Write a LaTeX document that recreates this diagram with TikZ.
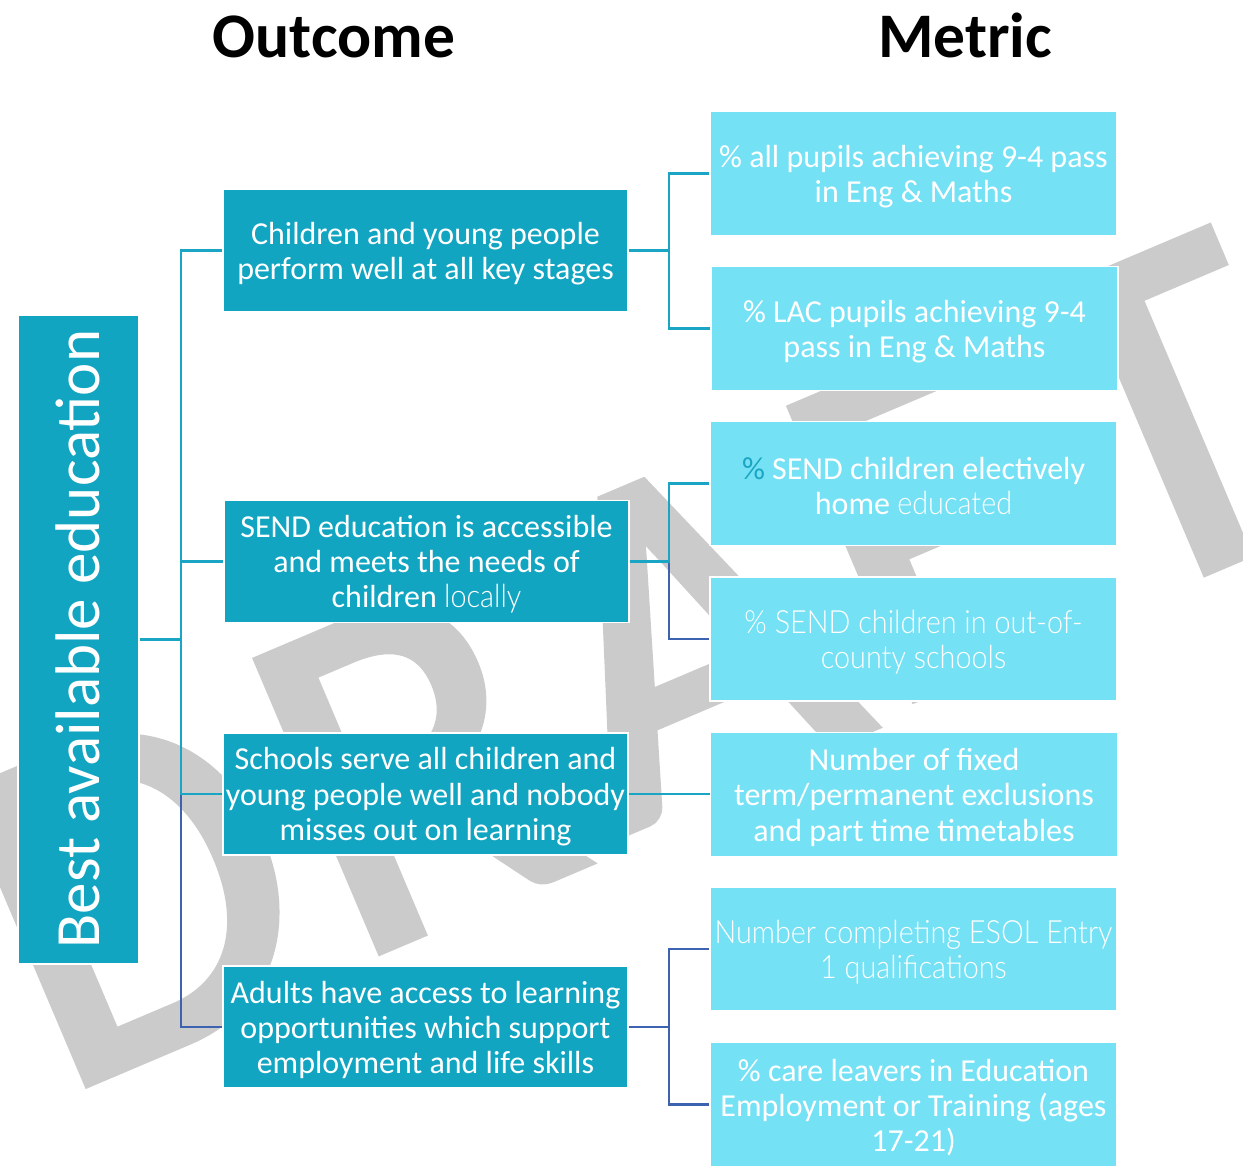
\documentclass[tikz,border=0pt]{standalone}
\usepackage{fontspec}
\setmainfont{Carlito}
\newfontfamily\lightfont[FakeStretch=0.9]{Lato Light}
\newfontfamily\wmfont[FakeBold=2]{Carlito}
\definecolor{tealbox}{HTML}{12A5C1}
\definecolor{cyanbox}{HTML}{75E1F5}
\definecolor{tealline}{HTML}{1AA5C4}
\definecolor{blueline}{HTML}{3D62B0}
\definecolor{wmgray}{HTML}{CBCBCB}
\begin{document}
\begin{tikzpicture}[x=0.5pt,y=-0.5pt,
  outbox/.style={fill=tealbox, draw=white, line width=0.6pt, minimum width=202.5pt, minimum height=61pt, inner sep=0pt},
  metbox/.style={fill=cyanbox, draw=white, line width=0.6pt, minimum width=203.5pt, minimum height=62pt, inner sep=0pt},
  btext/.style={text=white, inner sep=0pt, align=center, yshift=-1.4pt, font=\fontsize{16pt}{17.6pt}\selectfont},
  lighttext/.style={btext, font=\lightfont\fontsize{16pt}{17.6pt}\selectfont},
  wm/.style={text=wmgray, font=\wmfont\fontsize{245pt}{245pt}\selectfont, inner sep=0pt, rotate=23},
  tl/.style={draw=tealline, line width=1.2pt},
  bl/.style={draw=blueline, line width=1.2pt},
  title/.style={font=\fontsize{31.75pt}{34pt}\selectfont\bfseries, anchor=base}]
\useasboundingbox (0,0) rectangle (1243,1168);
% watermark
\node[wm] (wD) at (135,892) {D};
\node[wm] (wR) at (410,767) {R};
\node[wm] (wA) at (684,636) {A};
\node[wm] (wF) at (927,522) {F};
\node[wm] (wT) at (1165,418) {T};
% titles
\node[title] (tOut) at (334,57) {Outcome};
\node[title] (tMet) at (965,57) {Metric};
% bus coordinates
\coordinate (b0) at (181,0);
\coordinate (b1) at (669,0);
% big box
\node[fill=tealbox, draw=white, line width=0.6pt, minimum width=60.5pt, minimum height=324.5pt, inner sep=0pt] (big) at (78.5,639.5) {};
\node[rotate=90, text=white, inner sep=0pt, font=\fontsize{31.5pt}{34pt}\selectfont] (bigtext) at (78,639) {Best available education};
% outcome boxes
\node[outbox] (o1) at (425.5,250.5) {};
\node[outbox] (o2) at (426.5,561.5) {};
\node[outbox] (o3) at (425.5,794) {};
\node[outbox] (o4) at (425.5,1027) {};
\node[btext] (o1t) at (o1) {Children and young people\\perform well at all key stages};
\node[btext] (o2t) at (o2) {SEND education is accessible\\and meets the needs of\\children {\lightfont locally}};
\node[btext] (o3t) at (o3) {Schools serve all children and\\young people well and nobody\\misses out on learning};
\node[btext] (o4t) at (o4) {Adults have access to learning\\opportunities which support\\employment and life skills};
% metric boxes
\node[metbox] (m1) at (913.5,173.5) {};
\node[metbox] (m2) at (914.5,328.5) {};
\node[metbox] (m3) at (913.5,483.5) {};
\node[metbox] (m4) at (913.5,639) {};
\node[metbox] (m5) at (914,794.5) {};
\node[metbox] (m6) at (913.5,949) {};
\node[metbox] (m7) at (913.5,1104.5) {};
\node[btext] (m1t) at (m1) {\% all pupils achieving 9-4 pass\\in Eng \& Maths};
\node[btext] (m2t) at (m2) {\% LAC pupils achieving 9-4\\pass in Eng \& Maths};
\node[btext] (m3t) at (m3) {{\color{tealline}\%} SEND children electively\\home {\lightfont educated}};
\node[lighttext] (m4t) at (m4) {\% SEND children in out-of-\\county schools};
\node[btext] (m5t) at (m5) {Number of fixed\\term/permanent exclusions\\and part time timetables};
\node[lighttext] (m6t) at (m6) {Number completing ESOL Entry\\1 qualifications};
\node[btext] (m7t) at (m7) {\% care leavers in Education\\Employment or Training (ages\\17-21)};
% connectors level 1
\draw[bl] (big.east) -- (big.east -| b0) |- (o4.west);
\draw[tl] (big.east) -- (big.east -| b0) |- (o1.west);
\draw[tl] (big.east) -- (big.east -| b0) |- (o2.west);
\draw[tl] (big.east) -- (big.east -| b0) |- (o3.west);
% connectors level 2
\draw[tl] (o1.east) -- (o1.east -| b1) |- (m1.west);
\draw[tl] (o1.east) -- (o1.east -| b1) |- (m2.west);
\draw[bl] (o2.east) -- (o2.east -| b1) |- (m4.west);
\draw[tl] (o2.east) -- (o2.east -| b1) |- (m3.west);
\draw[tl] (o3.east) -- (o3.east -| m5.west);
\draw[bl] (o4.east) -- (o4.east -| b1) |- (m6.west);
\draw[bl] (o4.east) -- (o4.east -| b1) |- (m7.west);
\end{tikzpicture}
\end{document}
